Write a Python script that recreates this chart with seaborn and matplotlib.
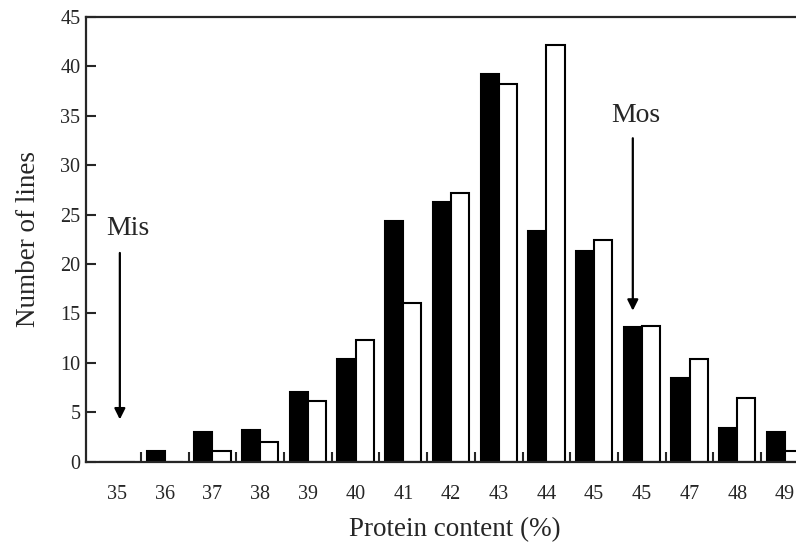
# Protein content distribution - two grouped series (filled / open bars)

import pandas as pd
import matplotlib
matplotlib.use("Agg")
import matplotlib.pyplot as plt
import seaborn as sns
from matplotlib.ticker import FixedLocator

# -------------------------------
# data
# -------------------------------
bins = [35, 36, 37, 38, 39, 40, 41, 42, 43, 44, 45, 46, 47, 48, 49]
tick_labels = ["35", "36", "37", "38", "39", "40", "41", "42", "43",
               "44", "45", "45", "47", "48", "49"]
filled_counts = [0, 1.1, 3.0, 3.2, 7.1, 10.4, 24.3, 26.3, 39.2,
                 23.3, 21.3, 13.6, 8.5, 3.4, 3.0]
open_counts = [0, 0, 1.1, 2.0, 6.1, 12.3, 16.1, 27.2, 38.2,
               42.1, 22.4, 13.7, 10.4, 6.5, 1.1]
series_names = ["filled", "open"]

df = pd.DataFrame({
    "bin": [str(b) for b in bins] * 2,
    "series": [series_names[0]] * len(bins) + [series_names[1]] * len(bins),
    "count": filled_counts + open_counts,
})

# -------------------------------
# style
# -------------------------------
sns.set_style("ticks")
plt.rcParams['font.family'] = ['Liberation Serif', 'DejaVu Serif']

fig = plt.figure(figsize=(7.96, 5.42), dpi=100)
ax = fig.add_axes([0.108, 0.148, 0.892, 0.821])

sns.barplot(data=df, x="bin", y="count", hue="series",
            order=[str(b) for b in bins], hue_order=series_names,
            palette=["black", "white"], edgecolor="black", linewidth=1.5,
            width=0.76, legend=False, ax=ax)

ax.set_xlim(-0.65, 14.23)
ax.set_ylim(0, 45)
ax.set_yticks(range(0, 50, 5))

ax.set_xticks(range(len(bins)))
ax.set_xticklabels(tick_labels)
ax.xaxis.set_minor_locator(FixedLocator([i + 0.5 for i in range(len(bins) - 1)]))
ax.tick_params(axis="x", which="major", length=0, pad=17, labelsize=14.5)
ax.tick_params(axis="x", which="minor", direction="in", length=7, width=1.5)
ax.tick_params(axis="y", direction="in", length=7, width=1.5, pad=4, labelsize=14.5)

for side in ["left", "bottom", "top"]:
    ax.spines[side].set_linewidth(1.6)
ax.spines["right"].set_visible(False)

ax.set_xlabel("Protein content (%)", fontsize=19.5)
ax.xaxis.set_label_coords(0.52, -0.125)
ax.set_ylabel("Number of lines", fontsize=19.5, labelpad=14)

# -------------------------------
# parent annotations
# -------------------------------
arrow = dict(arrowstyle="-|>", color="black", lw=1.6, mutation_scale=16)
ax.annotate("", xy=(0.06, 4.0), xytext=(0.06, 21.4), arrowprops=arrow)
ax.text(0.23, 23.6, "Mis", fontsize=20, ha="center", va="center")
ax.annotate("", xy=(10.81, 15.0), xytext=(10.81, 33.0), arrowprops=arrow)
ax.text(10.88, 35.0, "Mos", fontsize=20, ha="center", va="center")

fig.savefig("out.png", dpi=100)
